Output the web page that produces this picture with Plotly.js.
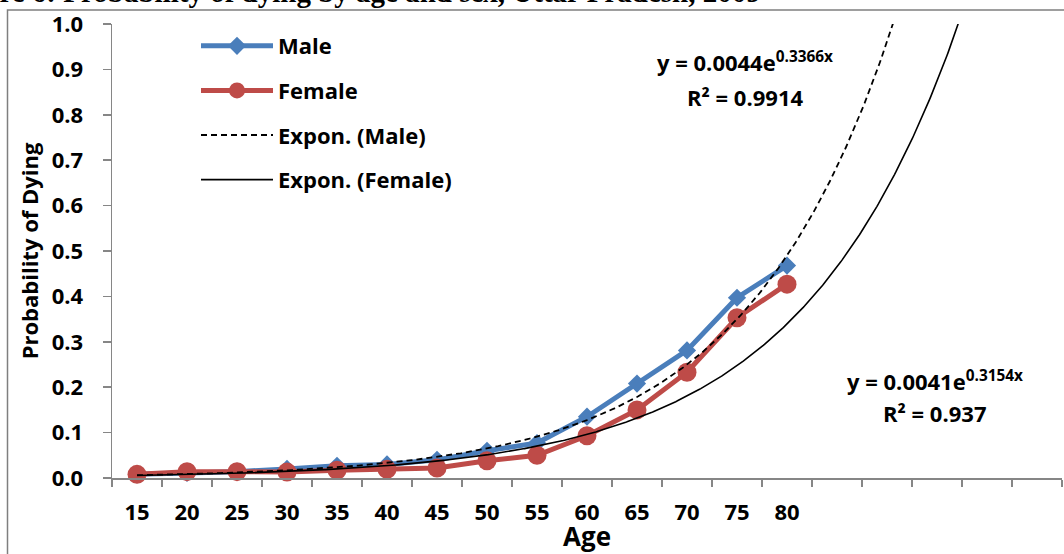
<!DOCTYPE html>
<html>
<head>
<meta charset="utf-8">
<script src="https://cdn.plot.ly/plotly-3.0.1.min.js"></script>
<style>
html,body{margin:0;padding:0;background:#fff;}
#chart{width:1064px;height:554px;}
</style>
</head>
<body>
<div id="chart"></div>
<script>
// Age groups (category labels)
const ages = ['15','20','25','30','35','40','45','50','55','60','65','70','75','80'];
// Probability of dying
const male   = [0.008, 0.011, 0.014, 0.020, 0.027, 0.030, 0.040, 0.060, 0.077, 0.135, 0.208, 0.281, 0.397, 0.468];
const female = [0.008, 0.014, 0.014, 0.013, 0.017, 0.019, 0.022, 0.038, 0.050, 0.093, 0.150, 0.233, 0.353, 0.427];
// Exponential trendline coefficients shown on the chart: y = a * e^(b*x), x = category index
const maleTrend   = [0.0044, 0.3366];
const femaleTrend = [0.0041, 0.3154];
const nCategories = 19; // category axis length incl. forecast
const labels = ['y = 0.0044e<sup>0.3366x</sup>', 'R² = 0.9914', 'y = 0.0041e<sup>0.3154x</sup>', 'R² = 0.937'];
const titleText = 'Figure 6: Probability of dying by age and sex, Uttar Pradesh, 2009';

const idx = ages.map((_, i) => i + 1);
function trend(c){
  const xs = [], ys = [];
  for (let k = 0; k <= (nCategories - 1) * 40; k++){
    const x = 1 + k / 40;
    xs.push(x); ys.push(c[0] * Math.exp(c[1] * x));
  }
  return {xs, ys};
}
const tm = trend(maleTrend), tf = trend(femaleTrend);

const FONT = 'Open Sans, sans-serif';
const blue = '#4A7EBB', red = '#BE4B48';

const traces = [
  {x: idx, y: male, name: 'Male', type: 'scatter', mode: 'lines+markers', legendgroup: 'a',
   line: {color: blue, width: 5}, marker: {symbol: 'diamond', size: 14, color: blue}, cliponaxis: false},
  {x: idx, y: female, name: 'Female', type: 'scatter', mode: 'lines+markers', legendgroup: 'b',
   line: {color: red, width: 5}, marker: {symbol: 'circle', size: 19, color: red}, cliponaxis: false},
  {x: tm.xs, y: tm.ys, name: 'Expon. (Male)', type: 'scatter', mode: 'lines', legendgroup: 'c',
   line: {color: '#000', width: 1.8, dash: '6px,4px'}},
  {x: tf.xs, y: tf.ys, name: 'Expon. (Female)', type: 'scatter', mode: 'lines', legendgroup: 'd',
   line: {color: '#000', width: 1.6}}
];

const minorVals = [];
for (let i = 0; i <= nCategories; i++) minorVals.push(i + 0.5);

const px = v => (v - 112) / 950;
const py = v => (478 - v) / 454;

const layout = {
  width: 1064, height: 554,
  margin: {l: 112, r: 2, t: 24, b: 76},
  paper_bgcolor: '#fff', plot_bgcolor: '#fff',
  showlegend: true,
  hovermode: false,
  font: {family: FONT, color: '#000'},
  xaxis: {
    range: [0.5, nCategories + 0.5],
    tickmode: 'array', tickvals: idx, ticktext: ages,
    ticks: '', showgrid: false, zeroline: false,
    showline: true, linecolor: '#868686', linewidth: 1.5,
    tickfont: {family: FONT, size: 22, weight: 'bold', color: '#000'},
    ticklabelstandoff: 14,
    minor: {tickmode: 'array', tickvals: minorVals, ticks: 'outside', ticklen: 7, tickcolor: '#868686', tickwidth: 1.5, showgrid: false},
    title: {text: 'Age', font: {family: FONT, size: 26, weight: 'bold', color: '#000'}, standoff: 4}
  },
  yaxis: {
    range: [0, 1], dtick: 0.1, tick0: 0, tickformat: '.1f',
    ticks: 'outside', ticklen: 8, tickcolor: '#868686', tickwidth: 1.5,
    showgrid: false, zeroline: false,
    showline: true, linecolor: '#868686', linewidth: 1.5,
    tickfont: {family: FONT, size: 22, weight: 'bold', color: '#000'},
    ticklabelstandoff: 15,
    title: {text: 'Probability of Dying', font: {family: FONT, size: 22, weight: 'bold', color: '#000'}, standoff: 7}
  },
  legend: {
    x: px(196), y: py(25), xanchor: 'left', yanchor: 'top',
    bgcolor: 'rgba(0,0,0,0)', borderwidth: 0,
    traceorder: 'grouped', tracegroupgap: 13, itemwidth: 72,
    font: {family: FONT, size: 22, weight: 'bold', color: '#000'}
  },
  shapes: [
    {type: 'rect', xref: 'paper', yref: 'paper', x0: px(7.5), x1: px(1080), y0: py(570), y1: py(10),
     line: {color: '#7f7f7f', width: 1.5}, fillcolor: 'rgba(0,0,0,0)', layer: 'below'}
  ],
  annotations: [
    {text: '<b>' + titleText + '</b>', xref: 'paper', yref: 'paper',
     x: px(763), y: py(-8), xanchor: 'right', yanchor: 'middle', showarrow: false,
     font: {family: 'Liberation Serif, serif', size: 29, color: '#000'}},
    {text: '<b>' + labels[0] + '</b>', xref: 'paper', yref: 'paper', x: px(745), y: py(62), xanchor: 'center', yanchor: 'middle', showarrow: false,
     font: {family: FONT, size: 22, color: '#000'}},
    {text: '<b>' + labels[1] + '</b>', xref: 'paper', yref: 'paper', x: px(745), y: py(97), xanchor: 'center', yanchor: 'middle', showarrow: false,
     font: {family: FONT, size: 22, color: '#000'}},
    {text: '<b>' + labels[2] + '</b>', xref: 'paper', yref: 'paper', x: px(935), y: py(380), xanchor: 'center', yanchor: 'middle', showarrow: false,
     font: {family: FONT, size: 22, color: '#000'}},
    {text: '<b>' + labels[3] + '</b>', xref: 'paper', yref: 'paper', x: px(934), y: py(413), xanchor: 'center', yanchor: 'middle', showarrow: false,
     font: {family: FONT, size: 22, color: '#000'}}
  ]
};

Plotly.newPlot('chart', traces, layout, {displayModeBar: false, staticPlot: true});
</script>
</body>
</html>
